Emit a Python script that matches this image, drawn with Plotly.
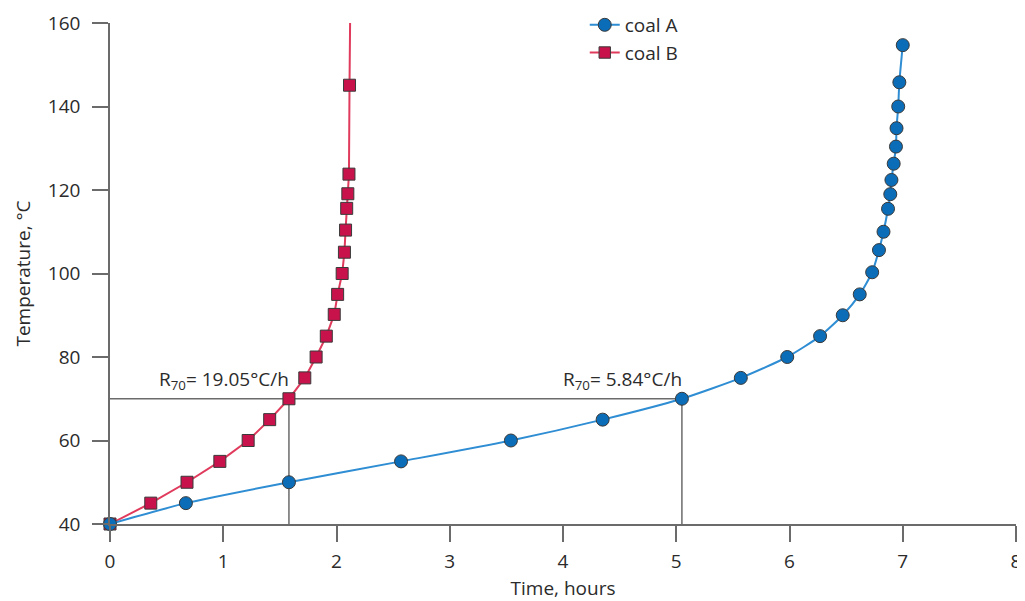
import plotly.graph_objects as go

# Coal A (time in hours, temperature in °C)
coal_a_time = [0, 0.67, 1.58, 2.57, 3.54, 4.35, 5.05, 5.57, 5.98, 6.27, 6.47, 6.62, 6.73,
               6.79, 6.83, 6.87, 6.89, 6.90, 6.92, 6.94, 6.945, 6.96, 6.97, 7.0]
coal_a_temp = [40, 45, 50, 55, 60, 65, 70, 75, 80, 85, 90, 95, 100.3,
               105.6, 110, 115.5, 119, 122.4, 126.3, 130.4, 134.8, 140, 145.8, 154.7]

# Coal B
coal_b_time = [0, 0.36, 0.68, 0.97, 1.22, 1.41, 1.58, 1.72, 1.82, 1.91, 1.98, 2.01, 2.05,
               2.07, 2.08, 2.09, 2.10, 2.11, 2.115, 2.12]
coal_b_temp = [40, 45, 50, 55, 60, 65, 70, 75, 80, 85, 90.2, 95, 100,
               105.1, 110.4, 115.6, 119.1, 123.8, 145.1, 160]

# R70 reference points
r70_temp = 70
r70_b_time = 1.58
r70_a_time = 5.05
r70_b_label = "R<sub>70</sub>= 19.05°C/h"
r70_a_label = "R<sub>70</sub>= 5.84°C/h"

x_ticks = [0, 1, 2, 3, 4, 5, 6, 7, 8]
y_ticks = [40, 60, 80, 100, 120, 140, 160]

FONT = "Open Sans, DejaVu Sans, sans-serif"
GRAY = "#6b6b6b"
TXT = "#2b2b2b"
FS = 19

fig = go.Figure()

# reference lines
for xs, ys in (([0, r70_a_time], [r70_temp, r70_temp]),
               ([r70_b_time, r70_b_time], [40, r70_temp]),
               ([r70_a_time, r70_a_time], [40, r70_temp])):
    fig.add_trace(go.Scatter(x=xs, y=ys, mode="lines",
                             line=dict(color=GRAY, width=1.5), showlegend=False, hoverinfo="skip"))

b_sizes = [12] * (len(coal_b_time) - 1) + [0]
fig.add_trace(go.Scatter(
    x=coal_b_time, y=coal_b_temp, mode="lines+markers", name="coal B",
    line=dict(color="#E03A5C", width=2),
    marker=dict(symbol="square", size=b_sizes, color="#C8124B", opacity=1,
                line=dict(color="#3a3a3a", width=1)),
    cliponaxis=False, legendrank=2))

fig.add_trace(go.Scatter(
    x=coal_a_time, y=coal_a_temp, mode="lines+markers", name="coal A",
    line=dict(color="#2E8DD3", width=2, shape="spline", smoothing=0.6),
    marker=dict(symbol="circle", size=13, color="#0B6DB7", opacity=1,
                line=dict(color="#3a3a3a", width=1)),
    cliponaxis=False, legendrank=1))

fig.add_annotation(x=r70_b_time, y=r70_temp, text=r70_b_label, showarrow=False,
                   xanchor="right", yanchor="bottom", yshift=3, xshift=2,
                   font=dict(family=FONT, size=FS, color=TXT))
fig.add_annotation(x=r70_a_time, y=r70_temp, text=r70_a_label, showarrow=False,
                   xanchor="right", yanchor="bottom", yshift=3, xshift=2,
                   font=dict(family=FONT, size=FS, color=TXT))

fig.update_layout(
    width=1017, height=593,
    margin=dict(l=102, r=9, t=15, b=77, autoexpand=False),
    plot_bgcolor="white", paper_bgcolor="white",
    font=dict(family=FONT, size=FS, color=TXT),
    legend=dict(x=0.524, y=1.034, xanchor="left", yanchor="top",
                font=dict(size=FS, color=TXT), bgcolor="rgba(0,0,0,0)", tracegroupgap=0),
    xaxis=dict(range=[0, 8], tickvals=x_ticks, showgrid=False, zeroline=False,
               showline=True, linecolor=GRAY, linewidth=1.5, ticks="outside",
               ticklen=16, tickcolor=GRAY, tickwidth=1.5, tickfont=dict(size=FS),
               ticklabelstandoff=3, ticklabeloverflow="allow",
               title=dict(text="Time, hours", standoff=10, font=dict(size=FS))),
    yaxis=dict(range=[40, 160], tickvals=y_ticks, showgrid=False, zeroline=False,
               showline=True, linecolor=GRAY, linewidth=1.5, ticks="outside",
               ticklen=16, tickcolor=GRAY, tickwidth=1.5, tickfont=dict(size=FS),
               ticklabelstandoff=8, ticklabeloverflow="allow",
               title=dict(text="Temperature, °C", standoff=12, font=dict(size=FS))),
)

fig.write_html("out.html")
